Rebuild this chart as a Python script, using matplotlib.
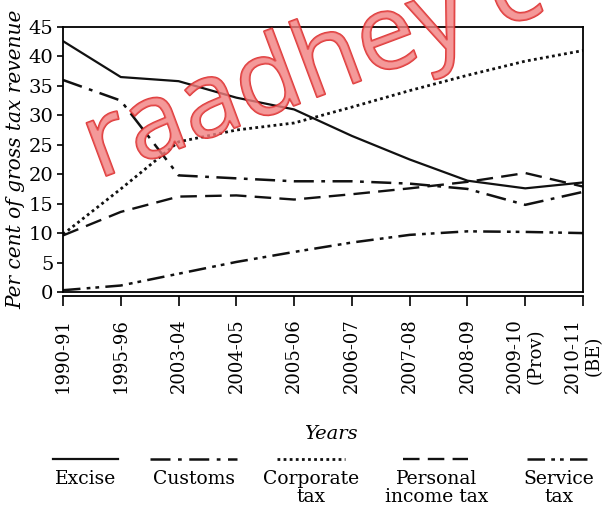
import matplotlib.pyplot as plt
import matplotlib.patheffects as pe
from matplotlib.lines import Line2D

years = ["1990-91", "1995-96", "2003-04", "2004-05", "2005-06", "2006-07",
         "2007-08", "2008-09", "2009-10\n(Prov)", "2010-11\n(BE)"]
excise = [42.6, 36.5, 35.8, 33.0, 31.0, 26.5, 22.5, 18.9, 17.6, 18.6]
customs = [36.0, 32.5, 19.8, 19.3, 18.8, 18.8, 18.4, 17.5, 14.8, 17.0]
corporate = [9.8, 17.5, 25.5, 27.5, 28.7, 31.4, 34.2, 36.8, 39.2, 41.0]
personal = [9.6, 13.6, 16.2, 16.4, 15.7, 16.6, 17.6, 18.7, 20.2, 17.9]
service = [0.3, 1.1, 3.1, 5.1, 6.8, 8.4, 9.7, 10.3, 10.2, 10.0]

names = ["Excise", "Customs", "Corporate\ntax", "Personal\nincome tax", "Service\ntax"]
series = [excise, customs, corporate, personal, service]
styles = [
    dict(linestyle="-", linewidth=1.6),
    dict(linestyle=(0, (8, 3, 1.5, 3)), linewidth=1.8),
    dict(linestyle=(0, (1, 1.2)), linewidth=2.0),
    dict(linestyle=(0, (7, 3.5)), linewidth=1.7),
    dict(linestyle=(0, (7, 2.5, 1.5, 2, 1.5, 2.5)), linewidth=1.8),
]

plt.rcParams["font.family"] = "DejaVu Serif"

fig = plt.figure(figsize=(6.04, 5.19), dpi=100)
ax = fig.add_axes([0.1043, 0.4374, 0.861, 0.5106])

x = list(range(len(years)))
for s, st in zip(series, styles):
    ax.plot(x, s, color="#111111", **st)

ax.set_xlim(0, len(years) - 1)
ax.set_ylim(0, 45)
ax.set_yticks(range(0, 46, 5))
ax.set_xticks(x)
ax.set_xticklabels(years)
ax.tick_params(axis="y", labelsize=14, length=4, width=1.2, pad=3)
ax.tick_params(axis="x", labelsize=13, length=7, width=1.2, pad=9,
               labelrotation=90)
for lab in ax.get_xticklabels():
    lab.set_multialignment("right")
    lab.set_linespacing(0.9)
for sp in ax.spines.values():
    sp.set_linewidth(1.3)
ax.spines["bottom"].set_position(("outward", 3))
ax.axhline(0, color="black", linewidth=1.3, clip_on=False)
ax.set_ylabel("Per cent of gross tax revenue", fontsize=14.5, style="italic",
              labelpad=2)

fig.text(331 / 604, 1 - 434 / 519, "Years", fontsize=14, style="italic",
         ha="center", va="center")

# legend row: sample line above each label
W, H = 604, 519
line_spans = [(53, 118), (150, 237), (277, 345), (403, 468), (527, 593)]
label_x = [86, 194, 311, 437, 559]
for (x0, x1), lx, name, st in zip(line_spans, label_x, names, styles):
    fig.add_artist(Line2D([x0 / W, x1 / W], [1 - 459 / H, 1 - 459 / H],
                          color="#111111", **st))
    fig.text(lx / W, 1 - 470 / H, name, fontsize=13.5, ha="center", va="top",
             linespacing=1.0)

# site watermark
fig.text(0.162, 0.655, "raadhey c", rotation=20.5, rotation_mode="anchor",
         ha="left", va="baseline", fontsize=76, family="Open Sans",
         color=(0.95, 0.5, 0.5, 0.55),
         path_effects=[pe.withStroke(linewidth=1.4, foreground=(0.85, 0.1, 0.1, 0.85))])

fig.savefig("out.png", dpi=100)
